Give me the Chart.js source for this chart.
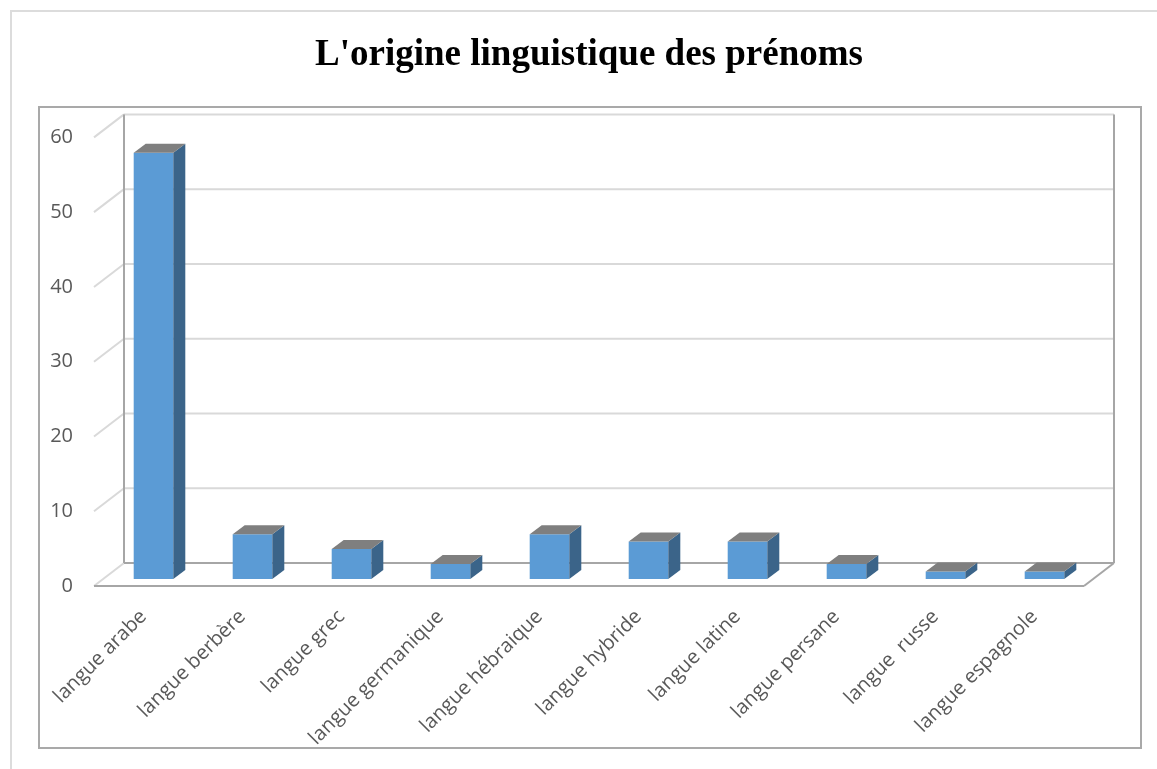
<!DOCTYPE html>
<html>
<head>
<meta charset="utf-8">
<script src="https://cdn.jsdelivr.net/npm/chart.js@4.4.0/dist/chart.umd.min.js"></script>
<style>
  html, body { margin: 0; padding: 0; background: #fff; }
  #wrap { position: relative; width: 1157px; height: 769px; overflow: hidden; }
  #outer { position: absolute; left: 10px; top: 10px; width: 1300px; height: 900px;
           border-top: 2px solid #dcdcdc; border-left: 2px solid #dcdcdc; }
  #inner { position: absolute; left: 38px; top: 106px; width: 1100px; height: 639px;
           border: 2px solid #a9a9a9; }
  canvas { position: absolute; left: 0; top: 0; }
</style>
</head>
<body>
<div id="wrap">
  <div id="outer"></div>
  <div id="inner"></div>
  <canvas id="chart" width="1157" height="769"></canvas>
</div>
<script>
// data
const categories = ['langue arabe', 'langue berbère', 'langue grec', 'langue germanique', 'langue hébraique',
  'langue hybride', 'langue latine', 'langue persane', 'langue  russe', 'langue espagnole'];
const counts = [57, 6, 4, 2, 6, 5, 5, 2, 1, 1];
const yTicks = [0, 10, 20, 30, 40, 50, 60];

const COLORS = {
  front: '#5b9bd5',
  side: '#3b6489',
  top: '#7f7f7f',
  grid: '#d9d9d9',
  edge: '#a6a6a6',
  text: '#595959',
};

// oblique 3D offsets (px)
const WALL = { dx: 30, dy: -23 };
const BAR_SHIFT = { dx: 10, dy: -7 };
const BAR_DEPTH = { dx: 12, dy: -9 };

function line(ctx, x1, y1, x2, y2, color, w) {
  ctx.beginPath();
  ctx.strokeStyle = color;
  ctx.lineWidth = w;
  ctx.moveTo(x1, y1);
  ctx.lineTo(x2, y2);
  ctx.stroke();
}

const box3d = {
  id: 'box3d',
  beforeDatasetsDraw(chart) {
    const ctx = chart.ctx;
    const { left, right, top, bottom } = chart.chartArea;
    const y = chart.scales.y;
    ctx.save();
    // side wall diagonals + back wall gridlines
    yTicks.forEach(v => {
      const py = y.getPixelForValue(v);
      line(ctx, left, py, left + WALL.dx, py + WALL.dy, COLORS.grid, 2);
      if (v > 0) line(ctx, left + WALL.dx, py + WALL.dy, right + WALL.dx, py + WALL.dy, COLORS.grid, 2);
    });
    // back wall edges
    line(ctx, left + WALL.dx, top + WALL.dy, left + WALL.dx, bottom + WALL.dy, COLORS.edge, 2);
    line(ctx, right + WALL.dx, top + WALL.dy, right + WALL.dx, bottom + WALL.dy, COLORS.edge, 2);
    // floor
    line(ctx, left + WALL.dx, bottom + WALL.dy, right + WALL.dx, bottom + WALL.dy, COLORS.edge, 2);
    line(ctx, left, bottom, right, bottom, COLORS.edge, 2);
    line(ctx, right, bottom, right + WALL.dx, bottom + WALL.dy, COLORS.edge, 2);
    ctx.restore();
    // bars sit in the middle of the depth
    ctx.save();
    ctx.translate(BAR_SHIFT.dx, BAR_SHIFT.dy);
  },
  afterDatasetsDraw(chart) {
    const ctx = chart.ctx;
    ctx.restore();
    const meta = chart.getDatasetMeta(0);
    ctx.save();
    meta.data.forEach(bar => {
      const l = bar.x - bar.width / 2 + BAR_SHIFT.dx;
      const r = bar.x + bar.width / 2 + BAR_SHIFT.dx;
      const t = bar.y + BAR_SHIFT.dy;
      const b = bar.base + BAR_SHIFT.dy;
      // side face
      ctx.beginPath();
      ctx.fillStyle = COLORS.side;
      ctx.moveTo(r, t);
      ctx.lineTo(r + BAR_DEPTH.dx, t + BAR_DEPTH.dy);
      ctx.lineTo(r + BAR_DEPTH.dx, b + BAR_DEPTH.dy);
      ctx.lineTo(r, b);
      ctx.closePath();
      ctx.fill();
      // top face
      ctx.beginPath();
      ctx.fillStyle = COLORS.top;
      ctx.moveTo(l, t);
      ctx.lineTo(l + BAR_DEPTH.dx, t + BAR_DEPTH.dy);
      ctx.lineTo(r + BAR_DEPTH.dx, t + BAR_DEPTH.dy);
      ctx.lineTo(r, t);
      ctx.closePath();
      ctx.fill();
    });
    ctx.restore();
  },
};

new Chart(document.getElementById('chart'), {
  type: 'bar',
  data: {
    labels: categories,
    datasets: [{
      data: counts,
      backgroundColor: COLORS.front,
      borderWidth: 0,
      barPercentage: 0.4,
      categoryPercentage: 1,
      clip: false,
    }],
  },
  plugins: [box3d],
  options: {
    responsive: false,
    animation: false,
    events: [],
    layout: { padding: { left: 21, right: 0, top: 0, bottom: 0 } },
    plugins: {
      legend: { display: false },
      tooltip: { enabled: false },
      title: {
        display: true,
        text: "L'origine linguistique des prénoms",
        color: '#000',
        font: { family: 'Liberation Serif', size: 37, weight: 'bold' },
        padding: { top: 33, bottom: 60 },
      },
    },
    scales: {
      x: {
        grid: { display: false, drawTicks: false },
        border: { display: false },
        ticks: {
          autoSkip: false,
          minRotation: 45,
          maxRotation: 45,
          padding: 19,
          color: COLORS.text,
          font: { family: 'Open Sans', size: 20 },
        },
        afterFit: s => { s.height = 183; },
      },
      y: {
        min: 0,
        max: 60,
        grid: { display: false, drawTicks: false },
        border: { display: false },
        ticks: {
          stepSize: 10,
          padding: 21,
          color: COLORS.text,
          font: { family: 'Open Sans', size: 20 },
        },
        afterFit: s => { s.width = 73; },
      },
      y2: {
        position: 'right',
        grid: { display: false, drawTicks: false },
        border: { display: false },
        ticks: { display: false },
        afterFit: s => { s.width = 73; },
      },
    },
  },
});
</script>
</body>
</html>
